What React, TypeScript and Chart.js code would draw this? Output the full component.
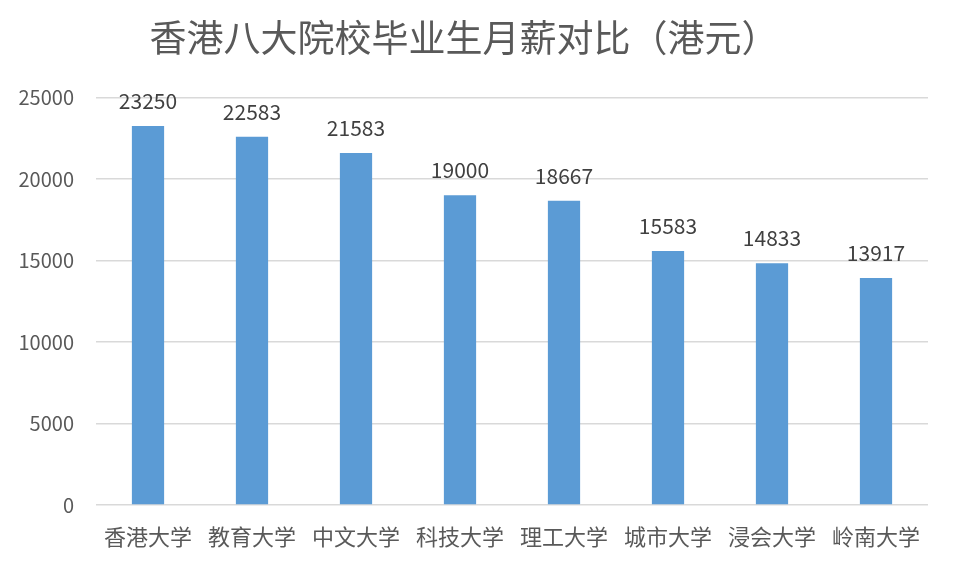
import React, { useEffect, useRef } from "react";
import { Chart, registerables } from "chart.js";

Chart.register(...registerables);

const titleText = "香港八大院校毕业生月薪对比（港元）";
const categories = ["香港大学", "教育大学", "中文大学", "科技大学", "理工大学", "城市大学", "浸会大学", "岭南大学"];
const salaries = [23250, 22583, 21583, 19000, 18667, 15583, 14833, 13917];
const yTicks = [0, 5000, 10000, 15000, 20000, 25000];

const FONT = "'Noto Sans CJK SC', 'Noto Sans', sans-serif";

const dataLabels = {
  id: "dataLabels",
  afterDatasetsDraw(chart: any) {
    const ctx = chart.ctx;
    const meta = chart.getDatasetMeta(0);
    ctx.save();
    ctx.font = `21px ${FONT}`;
    ctx.fillStyle = "#404040";
    ctx.textAlign = "center";
    ctx.textBaseline = "middle";
    meta.data.forEach((bar: any, i: number) => {
      const v = chart.data.datasets[0].data[i];
      ctx.fillText(String(v), bar.x, bar.y - 25);
    });
    ctx.restore();
  },
};

export default function App() {
  const ref = useRef<HTMLCanvasElement>(null);
  useEffect(() => {
    if (!ref.current) return;
    const chart = new Chart(ref.current, {
      type: "bar",
      data: {
        labels: categories,
        datasets: [
          {
            data: salaries,
            backgroundColor: "#5B9BD5",
            barPercentage: 0.31,
            categoryPercentage: 1,
          },
        ],
      },
      options: {
        animation: false,
        responsive: false,
        maintainAspectRatio: false,
        layout: { padding: { left: 0, right: 27, top: 0, bottom: 0 } },
        plugins: {
          legend: { display: false },
          tooltip: { enabled: false },
          title: {
            display: true,
            text: titleText,
            color: "#595959",
            font: { family: FONT, size: 37, weight: "normal" },
            padding: { top: 16, bottom: 37 },
          },
        },
        scales: {
          x: {
            grid: { display: false, drawTicks: false },
            border: { display: false },
            ticks: {
              color: "#595959",
              font: { family: FONT, size: 22 },
              padding: 18,
              maxRotation: 0,
              autoSkip: false,
            },
            afterFit(scale: any) {
              scale.height = 59;
            },
          },
          y: {
            min: 0,
            max: 25000,
            afterBuildTicks(scale: any) {
              scale.ticks = yTicks.map((v) => ({ value: v }));
            },
            grid: { color: "#D9D9D9", lineWidth: 1.5, drawTicks: false },
            border: { display: false },
            ticks: {
              color: "#595959",
              font: { family: FONT, size: 20 },
              padding: 22,
              callback: (v: any) => String(v),
            },
            afterFit(scale: any) {
              scale.width = 96;
            },
          },
        },
      },
      plugins: [dataLabels],
    });
    return () => chart.destroy();
  }, []);
  return (
    <div style={{ position: "fixed", left: 0, top: 0, width: 955, height: 564, background: "#fff" }}>
      <canvas ref={ref} width={955} height={564} style={{ display: "block" }} />
    </div>
  );
}
